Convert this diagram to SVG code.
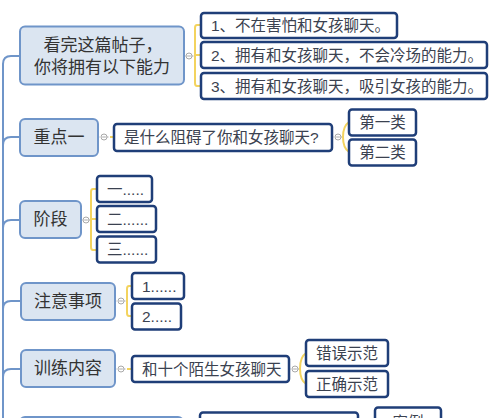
<svg xmlns="http://www.w3.org/2000/svg" width="500" height="418" viewBox="0 0 500 418">
<style>
.main{fill:#dbe5f1;stroke:#6f95c9;stroke-width:2}
.child{fill:#ffffff;stroke:#1f3e78;stroke-width:2.5}
.mt{font-family:"Liberation Sans","Noto Sans CJK SC",sans-serif;font-size:17px;fill:#333333;text-anchor:middle;dominant-baseline:central}
.ct{font-family:"Liberation Sans","Noto Sans CJK SC",sans-serif;font-size:15.5px;fill:#3b4250;dominant-baseline:central}
.ctm{text-anchor:middle}
.trunk{fill:none;stroke:#6f95c9;stroke-width:2}
.br{fill:none;stroke:#f3d35e;stroke-width:2}
.dot{fill:none;stroke:#b0b0b0;stroke-width:1;stroke-dasharray:1.5 1.5}
.cc{fill:#ffffff;stroke:#a8a8a8;stroke-width:1}
.cm{stroke:#a8a8a8;stroke-width:1}
</style>
<rect width="500" height="418" fill="#ffffff"/>
<g id="connectors">
  <path class="trunk" d="M3,418 L3,64 Q3,56 11,56 L20,56"/>
  <path class="trunk" d="M3,145 Q3,137 11,137 L20,137"/>
  <path class="trunk" d="M3,228 Q3,220 11,220 L20,220"/>
  <path class="trunk" d="M3,309 Q3,301 11,301 L21,301"/>
  <path class="trunk" d="M3,377 Q3,369 11,369 L21,369"/>
  <path class="dot" d="M184,56 H186 M192,56 H196"/>
  <path class="br" d="M201,25 H197 Q195,25 195,28 V83 Q195,86 197,86 H201 M195,55 H201"/>
  <path class="dot" d="M98,137 H101 M107,137 H110"/>
  <path class="br" d="M110,137 H114"/>
  <path class="dot" d="M332,137 H335 M341,137 H343"/>
  <path class="br" d="M349,122 Q343,126 343,137 Q343,148 349,152"/>
  <path class="dot" d="M81,220 H83 M89,220 H91"/>
  <path class="br" d="M97,189 H93 Q91,189 91,192 V247 Q91,250 93,250 H97 M91,219 H97"/>
  <path class="dot" d="M115,301 H118 M124,301 H127"/>
  <path class="br" d="M132,286 H129 Q127,286 127,289 V313 Q127,316 129,316 H132"/>
  <path class="dot" d="M115,369 H118 M124,369 H127"/>
  <path class="br" d="M127,369 H132"/>
  <path class="dot" d="M289,369 H292 M298,369 H300"/>
  <path class="br" d="M306,353 Q300,357 300,368.5 Q300,380 306,384"/>
  <g>
    <circle class="cc" cx="189" cy="56" r="3"/><path class="cm" d="M187.2,56 H190.8"/>
    <circle class="cc" cx="104" cy="137" r="3"/><path class="cm" d="M102.2,137 H105.8"/>
    <circle class="cc" cx="338" cy="137" r="3"/><path class="cm" d="M336.2,137 H339.8"/>
    <circle class="cc" cx="86" cy="220" r="3"/><path class="cm" d="M84.2,220 H87.8"/>
    <circle class="cc" cx="121" cy="301" r="3"/><path class="cm" d="M119.2,301 H122.8"/>
    <circle class="cc" cx="121" cy="369" r="3"/><path class="cm" d="M119.2,369 H122.8"/>
    <circle class="cc" cx="295" cy="369" r="3"/><path class="cm" d="M293.2,369 H296.8"/>
  </g>
</g>
<g id="n-ability">
  <rect class="main" x="20" y="26.5" width="164" height="58" rx="5"/>
  <text class="mt" x="103" y="45">看完这篇帖子，</text>
  <text class="mt" x="102" y="67.5">你将拥有以下能力</text>
</g>
<g id="n-a1"><rect class="child" x="201" y="13" width="196" height="25" rx="3"/><text class="ct" x="211" y="25.5">1、不在害怕和女孩聊天。</text></g>
<g id="n-a2"><rect class="child" x="201" y="42" width="286" height="26" rx="3"/><text class="ct" x="211" y="55">2、拥有和女孩聊天，不会冷场的能力。</text></g>
<g id="n-a3"><rect class="child" x="201" y="73" width="286" height="26" rx="3"/><text class="ct" x="211" y="86">3、拥有和女孩聊天，吸引女孩的能力。</text></g>
<g id="n-key">
  <rect class="main" x="20" y="119" width="78" height="37" rx="5"/>
  <text class="mt" x="59" y="137.5">重点一</text>
</g>
<g id="n-key-q"><rect class="child" x="114" y="124" width="218" height="27" rx="3"/><text class="ct" x="124" y="137.5">是什么阻碍了你和女孩聊天?</text></g>
<g id="n-type1"><rect class="child" x="349" y="109.5" width="67" height="26" rx="3"/><text class="ct ctm" x="382.5" y="122.5">第一类</text></g>
<g id="n-type2"><rect class="child" x="349" y="139.5" width="67" height="26" rx="3"/><text class="ct ctm" x="382.5" y="152.5">第二类</text></g>
<g id="n-stage">
  <rect class="main" x="20" y="201" width="61" height="37" rx="5"/>
  <text class="mt" x="50.5" y="219.5">阶段</text>
</g>
<g id="n-s1"><rect class="child" x="97" y="176" width="55" height="26" rx="3"/><text class="ct" x="107" y="189">一.....</text></g>
<g id="n-s2"><rect class="child" x="97" y="206" width="59" height="26" rx="3"/><text class="ct" x="107" y="219">二......</text></g>
<g id="n-s3"><rect class="child" x="97" y="236.5" width="59" height="26" rx="3"/><text class="ct" x="107" y="249.5">三......</text></g>
<g id="n-notes">
  <rect class="main" x="21" y="283" width="94" height="37" rx="5"/>
  <text class="mt" x="68" y="301.5">注意事项</text>
</g>
<g id="n-n1"><rect class="child" x="132" y="273" width="52" height="26" rx="3"/><text class="ct" x="142" y="286">1......</text></g>
<g id="n-n2"><rect class="child" x="132" y="303.5" width="49" height="26" rx="3"/><text class="ct" x="142" y="316.5">2.....</text></g>
<g id="n-train">
  <rect class="main" x="21" y="350" width="94" height="37" rx="5"/>
  <text class="mt" x="68" y="368.5">训练内容</text>
</g>
<g id="n-t1"><rect class="child" x="132" y="356" width="157" height="26" rx="3"/><text class="ct" x="142" y="369">和十个陌生女孩聊天</text></g>
<g id="n-wrong"><rect class="child" x="306" y="340" width="82" height="26" rx="3"/><text class="ct ctm" x="347" y="353">错误示范</text></g>
<g id="n-right"><rect class="child" x="306" y="371" width="82" height="26" rx="3"/><text class="ct ctm" x="347" y="384">正确示范</text></g>
<g id="n-bottom"><rect class="main" x="20" y="417" width="163" height="37" rx="5"/></g>
<g id="n-bottom-c"><rect class="child" x="200" y="412.5" width="158" height="26" rx="3"/></g>
<g id="n-case"><rect class="child" x="375" y="407.5" width="66" height="26" rx="3"/><text class="ct ctm" x="408" y="422">案例</text></g>
</svg>
